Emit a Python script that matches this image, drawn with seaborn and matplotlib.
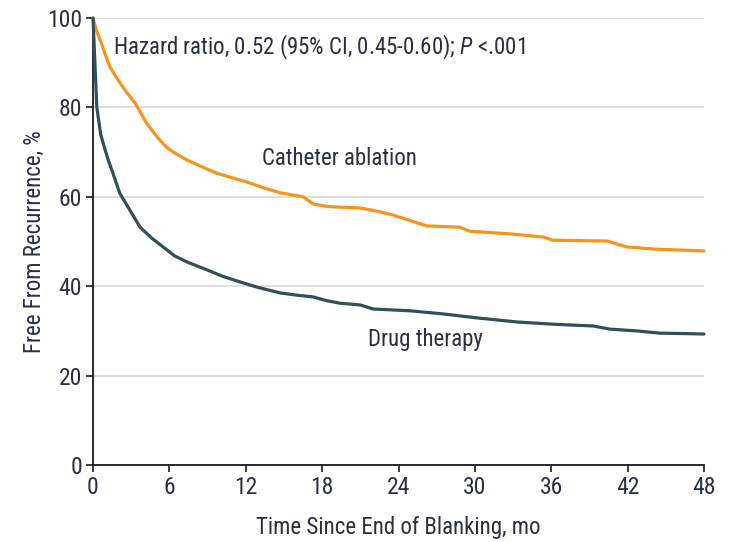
import matplotlib
matplotlib.use("Agg")
import matplotlib.pyplot as plt
from matplotlib import font_manager
import seaborn as sns
import pandas as pd

# ---- data ----
ablation_t = [0, 0.3, 0.7, 1.0, 1.34, 2.0, 2.6, 3.3, 4.2, 5.0, 5.8, 6.6, 7.4, 8.5, 9.7, 11.0,
              12.1, 13.4, 14.7, 16.5, 17.3, 18.5, 21.0, 22.3, 23.6, 24.9, 26.2, 28.8, 29.6,
              31.2, 32.8, 35.4, 36.1, 38.2, 40.4, 41.9, 44.1, 46.0, 48.0]
ablation_v = [100, 97, 94, 91.5, 89, 86, 83.5, 81, 76.5, 73.5, 71, 69.5, 68.2, 66.8, 65.3, 64.2,
              63.3, 62.0, 60.9, 60.0, 58.4, 57.8, 57.5, 56.8, 55.9, 54.7, 53.5, 53.2, 52.3,
              52.0, 51.7, 51.0, 50.3, 50.2, 50.1, 48.8, 48.3, 48.1, 47.9]

drug_t = [0, 0.05, 0.15, 0.3, 0.6, 0.9, 1.2, 1.6, 2.1, 2.9, 3.7, 4.6, 5.5, 6.4, 7.4, 8.2, 9.0,
          10.2, 11.5, 13.0, 14.7, 16.0, 17.3, 18.3, 19.4, 21.0, 22.0, 24.9, 27.5, 30.2,
          33.3, 36.1, 39.3, 40.6, 42.7, 44.5, 46.5, 48.0]
drug_v = [100, 96.6, 90, 80, 74, 71, 68.2, 65, 60.8, 57, 53.2, 50.8, 48.8, 46.8, 45.4, 44.5, 43.6,
          42.2, 41.0, 39.7, 38.5, 38.0, 37.6, 36.8, 36.2, 35.8, 34.9, 34.5, 33.8, 32.9,
          32.0, 31.5, 31.1, 30.4, 30.0, 29.5, 29.4, 29.3]

group_names = ["Catheter ablation", "Drug therapy"]
x_ticks = [0, 6, 12, 18, 24, 30, 36, 42, 48]
y_ticks = [0, 20, 40, 60, 80, 100]

df = pd.concat([
    pd.DataFrame({"t": ablation_t, "v": ablation_v, "group": group_names[0]}),
    pd.DataFrame({"t": drug_t, "v": drug_v, "group": group_names[1]}),
])

# ---- style ----
sns.set_theme(style="white")
installed = {f.name for f in font_manager.fontManager.ttflist}
fams = [f for f in ["Roboto Condensed", "Liberation Sans Narrow", "Open Sans Condensed"] if f in installed]
plt.rcParams["font.family"] = fams + ["DejaVu Sans"]
plt.rcParams["mathtext.fontset"] = "custom"
plt.rcParams["mathtext.it"] = (fams[0] if fams else "DejaVu Sans") + ":italic"
plt.rcParams["mathtext.rm"] = (fams[0] if fams else "DejaVu Sans")

text_color = "#2b2f45"
orange = "#f7941d"
teal = "#2f4f5a"
fs = 16.5

fig = plt.figure(figsize=(7.30, 5.42), dpi=100)
ax = fig.add_axes([93 / 730, 1 - 465 / 542, (704 - 93) / 730, (465 - 18) / 542])

sns.lineplot(data=df, x="t", y="v", hue="group", palette=[orange, teal],
             linewidth=2.3, legend=False, ax=ax, clip_on=False, zorder=3)

ax.set_xlim(0, 48)
ax.set_ylim(0, 100)
ax.set_xticks(x_ticks)
ax.set_yticks(y_ticks)
ax.yaxis.grid(True, color="#d9d9d9", linewidth=1.2, zorder=0)
ax.xaxis.grid(False)
for s in ["top", "right"]:
    ax.spines[s].set_visible(False)
for s in ["left", "bottom"]:
    ax.spines[s].set_color("#1a1a1a")
    ax.spines[s].set_linewidth(1.3)
ax.tick_params(axis="both", direction="out", length=5, width=1.2, color="#1a1a1a",
               labelsize=fs + 0.5, labelcolor=text_color, pad=3, bottom=True, left=True)

ax.set_xlabel("Time Since End of Blanking, mo", fontsize=fs, color=text_color, labelpad=12)
ax.set_ylabel("Free From Recurrence, %", fontsize=fs, color=text_color)
ax.yaxis.set_label_coords(-0.077, 0.5)

ax.text(1.6, 93.3, r"Hazard ratio, 0.52 (95% CI, 0.45-0.60); $P$ <.001",
        fontsize=fs, color=text_color, va="center", ha="left")
ax.text(13.3, 68.5, group_names[0], fontsize=fs, color=text_color, va="center", ha="left")
ax.text(21.6, 28.0, group_names[1], fontsize=fs, color=text_color, va="center", ha="left")

fig.savefig("out.png", dpi=100)
